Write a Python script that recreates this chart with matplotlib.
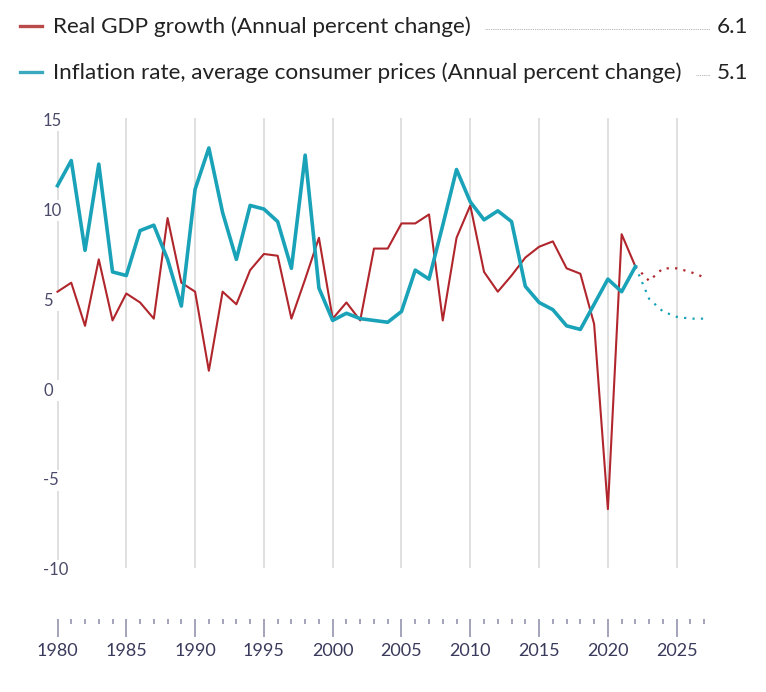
import matplotlib
matplotlib.use("Agg")
import matplotlib.pyplot as plt
import matplotlib.transforms as mtransforms
from matplotlib.patches import Rectangle
from matplotlib.lines import Line2D

plt.rcParams["font.family"] = ["Lato", "DejaVu Sans"]

# actual data, 1980-2022
years = list(range(1980, 2023))
gdp = [5.5, 6.0, 3.6, 7.3, 3.9, 5.4, 4.9, 4.0, 9.6, 6.0,
       5.5, 1.1, 5.5, 4.8, 6.7, 7.6, 7.5, 4.0, 6.2, 8.5,
       4.0, 4.9, 3.9, 7.9, 7.9, 9.3, 9.3, 9.8, 3.9, 8.5,
       10.3, 6.6, 5.5, 6.4, 7.4, 8.0, 8.3, 6.8, 6.5, 3.7,
       -6.6, 8.7, 6.9]
infl = [11.4, 12.8, 7.8, 12.6, 6.6, 6.4, 8.9, 9.2, 7.3, 4.7,
        11.2, 13.5, 9.9, 7.3, 10.3, 10.1, 9.4, 6.8, 13.1, 5.7,
        3.9, 4.3, 4.0, 3.9, 3.8, 4.4, 6.7, 6.2, 9.2, 12.3,
        10.5, 9.5, 10.0, 9.4, 5.8, 4.9, 4.5, 3.6, 3.4, 4.8,
        6.2, 5.5, 6.9]

# projections, 2022-2027
fc_years = list(range(2022, 2028))
gdp_fc = [6.9, 6.1, 6.8, 6.8, 6.6, 6.3]
infl_fc = [6.9, 5.1, 4.4, 4.1, 4.0, 4.0]

legend_labels = ["Real GDP growth (Annual percent change)",
                 "Inflation rate, average consumer prices (Annual percent change)"]
legend_values = ["6.1", "5.1"]

yticks = [15, 10, 5, 0, -5, -10]
grid_years = list(range(1980, 2026, 5))

red = "#b0262c"
teal = "#1aa3b8"
W, H = 766, 692

fig = plt.figure(figsize=(W / 100, H / 100), dpi=100)
ax = fig.add_axes([57.5 / W, 1 - 570.2 / H, (704.2 - 57.5) / W, (570.2 - 121) / H])
ax.set_xlim(1980, 2027)
ax.set_ylim(-10, 15)
for s in ["top", "right", "left"]:
  ax.spines[s].set_visible(False)
ax.spines["bottom"].set_position(("outward", 35.2))
ax.spines["bottom"].set_visible(False)
ax.set_yticks([])

ax.set_xticks(grid_years)
ax.set_xticks(range(1980, 2028), minor=True)
ax.tick_params(axis="x", which="major", direction="out", length=13, width=1.1,
               color="#8a8aa8", labelsize=13, labelcolor="#3a3a5c", pad=4)
ax.tick_params(axis="x", which="minor", direction="out", length=3.6, width=1.1,
               color="#8a8aa8")

ax.vlines(grid_years, -9.9, 15.15, color="#dddddd", lw=1.3, zorder=1, clip_on=False)

# y labels with white gap in the 1980 grid line
ytr = mtransforms.blended_transform_factory(fig.transFigure, ax.transData)
for v in yticks:
  ax.add_patch(Rectangle((40 / W, v - 0.58), 24 / W, 1.16, transform=ytr,
                         facecolor="white", edgecolor="none", zorder=2, clip_on=False))
  ax.text(43 / W, v, str(v), transform=ytr, ha="left", va="center",
          fontsize=12, color="#4a4a6a", zorder=3, clip_on=False)

ax.plot(years, gdp, color=red, lw=1.5, zorder=4, clip_on=False)
ax.plot(fc_years, gdp_fc, color=red, lw=1.6, ls=(0, (1, 2.8)), zorder=4, clip_on=False)
ax.plot(years, infl, color=teal, lw=2.6, zorder=5, clip_on=False)
ax.plot(fc_years, infl_fc, color=teal, lw=1.6, ls=(0, (1, 2.8)), zorder=5, clip_on=False)

# legend rows
swatch_cols = ["#b94a4a", "#3aa8bd"]
baselines = [32.7, 79.0]
fig.canvas.draw()
renderer = fig.canvas.get_renderer()
for lab, val, col, b in zip(legend_labels, legend_values, swatch_cols, baselines):
  yc = 1 - (b - 7) / H
  fig.add_artist(Line2D([20 / W, 42 / W], [yc, yc], color=col, lw=2.4,
                        transform=fig.transFigure))
  t = fig.text(53 / W, 1 - b / H, lab, fontsize=16.2, color="#222222", va="baseline")
  fig.text(748 / W, 1 - b / H, val, fontsize=16.2, color="#222222",
           va="baseline", ha="right")
  ext = t.get_window_extent(renderer)
  x0 = (ext.x1 + 14) / W
  yl = 1 - (b - 4) / H
  fig.add_artist(Line2D([x0, 710 / W], [yl, yl], color="#999999", lw=0.6,
                        ls=(0, (1, 1.2)), transform=fig.transFigure))

fig.savefig("out.png", dpi=100)
